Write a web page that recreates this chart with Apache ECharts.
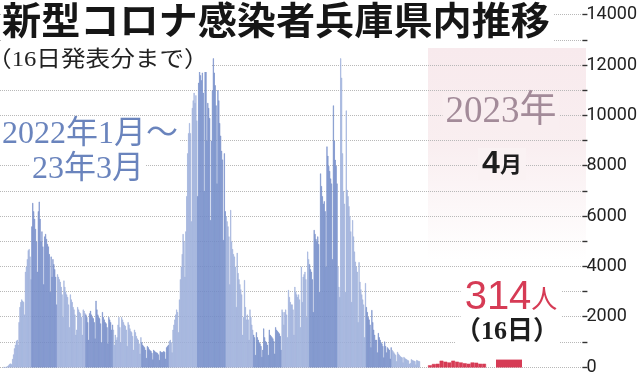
<!DOCTYPE html>
<html><head><meta charset="utf-8">
<script src="https://cdn.jsdelivr.net/npm/echarts/dist/echarts.min.js"></script>
<style>html,body{margin:0;padding:0;background:#fff}#c{width:640px;height:376px}</style>
</head><body><div id="c"></div>
<script>
// ---- Data: daily new cases, Hyogo ----
const jan22=[12,10,9,25,40,70,110,150,160,130,340,520,760,900,1050,1100,900,1800,2400,2600,2700,2650,2600,2100,3800,4000,4300,4650,4700,4400,3500];
const feb22=[5600,6530,6200,5900,5500,5000,3800,6200,6580,5900,5000,5400,4800,3300,5200,5300,5100,4900,4800,4500,3000,4400,3600,4300,4100,3900,3600,2500];
const mar22=[3700,3600,3500,3400,3200,2900,2000,3450,3200,3000,2900,2800,2500,1600,2900,2700,2600,2400,2300,2100,1300,1500,2400,2300,2200,2150,2000,1300,2300,2250,2150];
const apr22=[2100,2000,1800,1100,2150,2250,2100,2000,1950,1800,1150,2650,2300,2100,2000,1950,1750,1000,2200,2000,1900,1800,1750,1600,950,2000,1900,1800,1500,1700];
const may22=[1500,900,1300,1100,1200,1700,2000,1600,1000,2000,1900,1800,1700,1650,1500,850,1800,1700,1550,1450,1400,1250,700,1500,1400,1250,1150,1100,950,550,1200];
const jun22=[1000,900,850,800,700,380,850,800,720,680,650,580,320,700,660,620,600,580,520,300,650,620,600,620,650,620,350,800,850,900];
const jul22=[1050,1100,1000,600,1500,1700,1900,2100,2300,2200,1400,2700,3500,4000,4500,5300,5000,3600,5400,6800,8500,9300,9700,9300,5800,10300,10600,10900,10500,10800,9800];
const aug22=[6800,11300,11800,11600,11400,11700,10900,7000,12400,11900,9000,10500,10300,9900,5850,9000,11000,12270,11700,11200,10400,7300,11000,10600,9700,9200,8600,8250,5060,8500,6200];
const sep22=[6000,5800,5600,5200,3300,6250,5000,4700,4500,4400,4000,2400,4550,3750,3500,3300,3100,2900,1300,2000,3470,2400,1900,2100,1900,1100,2300,2000,1700,1500];
const oct22=[1300,1200,500,1400,1200,1100,1000,950,850,420,700,1550,1200,1050,1000,900,500,1500,1300,1250,1200,1150,1050,550,1600,1500,1450,1400,1350,1250,700];
const nov22=[2300,2200,1700,2200,2300,2100,1200,3080,2800,2600,2500,2500,2300,1300,3200,3000,2900,2800,2900,2700,1600,4000,2600,3600,3700,3800,3500,2000,4600,4300];
const dec22=[4100,3900,3800,3500,2200,5460,5300,5100,5000,5200,4900,3000,7700,7200,6800,6500,6600,6200,4000,8770,8400,8000,7800,7500,7300,4300,10400,9000,8240,8000,7300];
const jan23=[4000,3200,2800,12270,11500,8500,7000,6500,3000,10200,7050,6800,6400,6000,5400,2600,5850,5200,4600,4200,4000,3800,1800,4180,3400,3100,2900,2700,2500,1200,3350];
const feb23=[2400,2200,2000,1900,1700,800,2280,1800,1500,1300,1100,1100,600,1370,1200,1100,1000,950,850,400,1030,850,600,800,750,700,350,800];
const mar23=[700,650,600,550,500,250,620,550,500,450,420,400,200,420,380,350,330,300,280,150,180,330,300,280,270,250,120,300,280,260,250];
// April 2023 (1st-15th) and the 16th
const apr23Days=['1','2','3','4','5','6','7','8','9','10','11','12','13','14','15'];
const apr23=[90,140,150,270,230,200,270,230,200,170,150,200,190,150,150];
const apr16Label=['16日'];
const apr16=[314];
const yTickLabels=[0,2000,4000,6000,8000,10000,12000,14000];

const blueMonths=[jan22,feb22,mar22,apr22,may22,jun22,jul22,aug22,sep22,oct22,nov22,dec22,jan23,feb23,mar23];
const LIGHT='#9cafdb', DARK='#748cc8', RED='#d63b55';
const blueData=[];
blueMonths.forEach((m,i)=>m.forEach(v=>{
  const c=i%2===0?LIGHT:DARK;
  blueData.push({value:v,itemStyle:{color:c,borderColor:c,borderWidth:0.5}});
}));
const blueCats=blueData.map((_,i)=>String(i));

const TOP=14.7, BOT=8.5, YMAX=14000;
const hiddenY=(gi)=>({type:'value',gridIndex:gi,min:0,max:YMAX,show:false,
  axisLine:{show:false,onZero:false},axisTick:{show:false},axisLabel:{show:false},splitLine:{show:false}});
const hiddenX=(gi,data)=>({type:'category',gridIndex:gi,data:data,show:false,
  axisLine:{show:false,onZero:false},axisTick:{show:false},axisLabel:{show:false},splitLine:{show:false}});

const chart=echarts.init(document.getElementById('c'),null,{renderer:'canvas'});
const serifJP='"Liberation Serif","Noto Sans CJK JP"';
const option={
  animation:false,
  backgroundColor:'#ffffff',
  grid:[
    {left:0,right:57,top:TOP,bottom:BOT},
    {left:3,right:220,top:TOP,bottom:BOT},
    {left:428,right:154,top:TOP,bottom:BOT},
    {left:496,right:118,top:TOP,bottom:BOT}
  ],
  xAxis:[
    {type:'value',gridIndex:0,min:0,max:1,show:false,axisLine:{show:false,onZero:false},axisTick:{show:false},axisLabel:{show:false},splitLine:{show:false}},
    hiddenX(1,blueCats),hiddenX(2,apr23Days),hiddenX(3,apr16Label)
  ],
  yAxis:[
    {type:'value',gridIndex:0,position:'right',min:0,max:YMAX,interval:1000,
     axisLine:{show:false,onZero:false},
     axisTick:{show:true,length:5,inside:false,lineStyle:{color:'#333',width:1.4}},
     axisLabel:{margin:4,color:'#222',fontSize:18,fontFamily:'"Liberation Sans Narrow","Roboto",sans-serif',
       formatter:v=>yTickLabels.includes(v)?String(v):''},
     splitLine:{show:true,lineStyle:{type:'dotted',color:'#b8b8b8',width:1}}},
    hiddenY(1),hiddenY(2),hiddenY(3)
  ],
  series:[
    {type:'bar',xAxisIndex:1,yAxisIndex:1,data:blueData,barWidth:'100%',barCategoryGap:'0%'},
    {type:'bar',xAxisIndex:2,yAxisIndex:2,data:apr23,barWidth:'100%',barCategoryGap:'0%',
     itemStyle:{color:RED,borderColor:RED,borderWidth:0.5}},
    {type:'bar',xAxisIndex:3,yAxisIndex:3,data:apr16,barWidth:'100%',itemStyle:{color:RED}}
  ],
  graphic:[
    {type:'rect',z:-5,shape:{x:428,y:48,width:158,height:212},
     style:{fill:new echarts.graphic.LinearGradient(0,0,0,1,[
       {offset:0,color:'#f8eaed'},{offset:0.45,color:'#f9eef0'},{offset:1,color:'#ffffff'}])}},
    {type:'text',z:100,x:2,y:20,scaleX:1.03,
     style:{text:'新型コロナ感染者兵庫県内推移',font:'bold 38px "Noto Sans CJK JP"',fill:'#161616',
       textAlign:'left',textVerticalAlign:'middle',backgroundColor:'#ffffff',padding:[2,4,3,0]}},
    {type:'text',z:100,x:-13,y:60,scaleX:1.12,
     style:{text:'（16日発表分まで）',font:'22px '+serifJP,fill:'#222',
       textAlign:'left',textVerticalAlign:'middle',backgroundColor:'#ffffff',padding:[1,2,1,0]}},
    {type:'text',z:100,x:90,y:135,
     style:{text:'2022年1月～',font:'32px '+serifJP,fill:'#6a84bd',
       textAlign:'center',textVerticalAlign:'middle',backgroundColor:'#ffffff',padding:[0,2,0,2]}},
    {type:'text',z:100,x:88,y:170,
     style:{text:'23年3月',font:'32px '+serifJP,fill:'#6a84bd',
       textAlign:'center',textVerticalAlign:'middle',backgroundColor:'#ffffff',padding:[0,2,0,2]}},
    {type:'text',z:100,x:501,y:112,
     style:{text:'2023年',font:'37px '+serifJP,fill:'#a38b99',
       textAlign:'center',textVerticalAlign:'middle',backgroundColor:'#f9eef0',padding:[0,3,0,3]}},
    {type:'text',z:100,x:502,y:164,
     style:{text:'{a|4}{b|月}',rich:{a:{font:'bold 32px "Liberation Sans","Noto Sans CJK JP"',fill:'#1e1e1e'},
       b:{font:'bold 22px "Noto Sans CJK JP"',fill:'#1e1e1e'}},
       textAlign:'center',textVerticalAlign:'middle',backgroundColor:'#faf2f3',padding:[0,4,0,4]}},
    {type:'text',z:100,x:511,y:298,
     style:{text:'{a|314}{b|人}',rich:{a:{font:'40px "Liberation Sans","Noto Sans CJK JP"',fill:RED},
       b:{font:'26px "Noto Sans CJK JP"',fill:RED}},
       textAlign:'center',textVerticalAlign:'middle',backgroundColor:'#ffffff',padding:[0,4,0,4]}},
    {type:'text',z:100,x:507,y:332,
     style:{text:'（16日）',font:'bold 26px '+serifJP,fill:'#1e1e1e',
       textAlign:'center',textVerticalAlign:'middle',backgroundColor:'#ffffff',padding:[0,0,0,0]}}
  ]
};
chart.setOption(option);
</script></body></html>
